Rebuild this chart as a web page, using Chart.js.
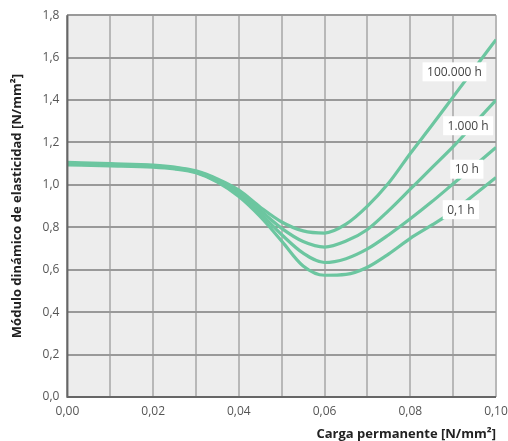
<!DOCTYPE html>
<html>
<head>
<meta charset="utf-8">
<script src="https://cdn.jsdelivr.net/npm/chart.js@4.4.1/dist/chart.umd.min.js"></script>
<style>
  html, body { margin:0; padding:0; background:#fff; }
  #wrap { width:508px; height:441px; }
</style>
</head>
<body>
<div id="wrap"><canvas id="chart"></canvas></div>
<script>
// load values (N/mm2)
var loads = [0, 0.01, 0.02, 0.025, 0.03, 0.035, 0.04, 0.045, 0.05, 0.055, 0.06, 0.065, 0.07, 0.075, 0.08, 0.085, 0.09, 0.095, 0.10];

// modulus per load duration
var h100000 = [1.106, 1.100, 1.093, 1.084, 1.066, 1.028, 0.975, 0.895, 0.825, 0.783, 0.773, 0.815, 0.90, 1.010, 1.148, 1.28, 1.415, 1.55, 1.685];
var h1000   = [1.102, 1.097, 1.090, 1.081, 1.063, 1.023, 0.965, 0.880, 0.795, 0.733, 0.707, 0.735, 0.790, 0.880, 0.980, 1.08, 1.18, 1.29, 1.40];
var h10     = [1.098, 1.093, 1.087, 1.078, 1.060, 1.018, 0.955, 0.865, 0.765, 0.678, 0.634, 0.652, 0.698, 0.765, 0.840, 0.92, 1.005, 1.09, 1.177];
var h01     = [1.094, 1.090, 1.084, 1.075, 1.057, 1.013, 0.945, 0.850, 0.735, 0.618, 0.574, 0.578, 0.612, 0.675, 0.748, 0.81, 0.875, 0.955, 1.035];

var seriesNames = ["100.000 h", "1.000 h", "10 h", "0,1 h"];
// where each name sits (load, modulus)
var labelX = [0.0903, 0.0935, 0.0932, 0.0918];
var labelY = [1.533, 1.279, 1.074, 0.883];

var lineColor = "rgb(108,198,160)";

function pts(vals) {
    return vals.map((v, i) => ({x: loads[i], y: v}));
}

var allSeries = [h100000, h1000, h10, h01];
var datasets = allSeries.map((s, i) => ({
    label: seriesNames[i],
    data: pts(s),
    borderColor: lineColor,
    borderWidth: 3.2,
    pointRadius: 0,
    fill: false,
    cubicInterpolationMode: "monotone"
}));

var plotBg = {
    id: "plotBg",
    beforeDraw(chart) {
        var c = chart.ctx, a = chart.chartArea;
        c.save();
        c.fillStyle = "#ededed";
        c.fillRect(a.left, a.top, a.right - a.left, a.bottom - a.top);
        c.restore();
    }
};

// white boxes with the duration names, drawn over the curves
var curveLabels = {
    id: "curveLabels",
    afterDatasetsDraw(chart) {
        var c = chart.ctx;
        var xs = chart.scales.x, ys = chart.scales.y;
        c.save();
        c.font = "12px 'Open Sans'";
        c.textAlign = "center";
        c.textBaseline = "middle";
        seriesNames.forEach((n, i) => {
            var px = xs.getPixelForValue(labelX[i]);
            var py = ys.getPixelForValue(labelY[i]);
            var w = c.measureText(n).width + 9;
            c.fillStyle = "#fff";
            c.fillRect(px - w / 2, py - 9.5, w, 19);
            c.fillStyle = "#444";
            c.fillText(n, px, py + 0.5);
        });
        c.restore();
    }
};

var axisLines = {
    id: "axisLines",
    afterDatasetsDraw(chart) {
        var c = chart.ctx, a = chart.chartArea;
        c.save();
        c.strokeStyle = "#666";
        c.lineWidth = 2;
        c.beginPath();
        c.moveTo(a.left, a.top);
        c.lineTo(a.left, a.bottom);
        c.lineTo(a.right, a.bottom);
        c.stroke();
        c.restore();
    }
};

new Chart(document.getElementById("chart"), {
    type: "line",
    data: { datasets: datasets },
    options: {
        responsive: true,
        maintainAspectRatio: false,
        animation: false,
        layout: { padding: { top: 3, right: 12, left: 5, bottom: -5 } },
        plugins: {
            legend: { display: false },
            tooltip: { enabled: false }
        },
        scales: {
            x: {
                type: "linear",
                min: 0,
                max: 0.1,
                afterFit: function(s) { s.paddingRight = 0; },
                grid: { color: "#b8b8b8", lineWidth: 2, drawTicks: false },
                border: { display: false },
                ticks: {
                    stepSize: 0.01,
                    autoSkip: false,
                    maxRotation: 0,
                    padding: 7,
                    color: "#555",
                    font: { family: "'Open Sans'", size: 12 },
                    callback: function(v, i) {
                        return i % 2 == 0 ? v.toFixed(2).replace(".", ",") : "";
                    }
                },
                title: {
                    display: true,
                    text: "Carga permanente [N/mm²]",
                    align: "end",
                    color: "#222",
                    font: { family: "'Open Sans'", size: 13, weight: "bold" },
                    padding: { top: 1 }
                }
            },
            y: {
                min: 0,
                max: 1.8,
                grid: { color: "#999", lineWidth: 2, drawTicks: false },
                border: { display: false },
                ticks: {
                    stepSize: 0.2,
                    padding: 8,
                    color: "#555",
                    font: { family: "'Open Sans'", size: 12 },
                    callback: v => v.toFixed(1).replace(".", ",")
                },
                title: {
                    display: true,
                    text: "Módulo dinámico de elasticidad [N/mm²]",
                    color: "#222",
                    font: { family: "'Open Sans'", size: 13, weight: "bold" },
                    padding: { bottom: 10 }
                }
            }
        }
    },
    plugins: [plotBg, curveLabels, axisLines]
});
</script>
</body>
</html>
